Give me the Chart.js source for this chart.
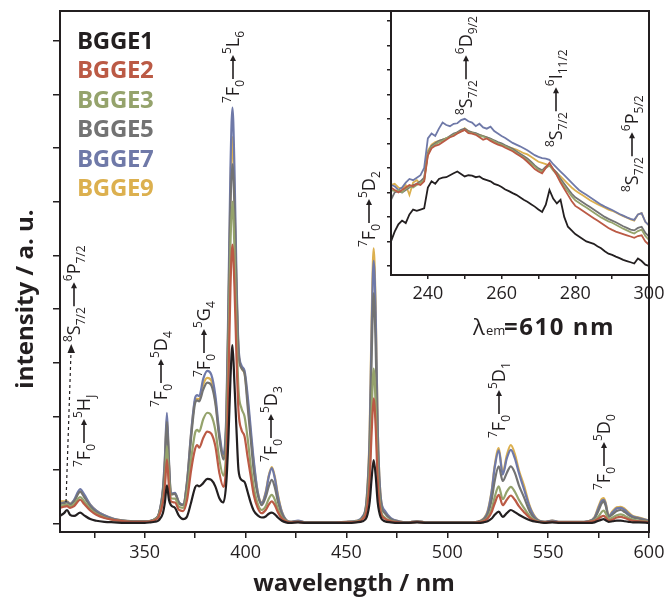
<!DOCTYPE html>
<html lang="en">
<head>
<meta charset="UTF-8">
<title>BGGE excitation spectra</title>
<script src="https://cdn.jsdelivr.net/npm/chart.js"></script>
<style>
  body { margin: 0; background: #fff; }
  #wrap { position: relative; width: 670px; height: 597px; }
  canvas { display: block; }
  #inset { position: absolute; left: 340px; top: 0; }
</style>
</head>
<body>
<div id="wrap">
  <canvas id="main" width="670" height="597"></canvas>
  <canvas id="inset" width="330" height="305"></canvas>
</div>
<script>
// sample names (legend order)
const names = ['BGGE1', 'BGGE2', 'BGGE3', 'BGGE5', 'BGGE7', 'BGGE9'];

// main spectrum: wavelength (nm) and intensity (a.u.) per sample
const mainNm = [308,310,311.5,313,315,318,320,323,326,330,
  335,340,345,350,353,355,357,359,360,361,
  362,363,365,367,369,371,373,375,376,377,
  379,381,383,385,387,389,390.5,391.5,392.5,393.5,
  394.5,395.5,396.5,398,399.5,401,402.5,404,406,408,
  410,411.5,413,414.5,416,418,420,422,426,430,
  440,450,455,458,460,461.5,462.5,463.5,464.5,465.5,
  467,469,472,476,480,485,490,500,510,515,
  518,520,522,523.5,525.5,527.5,529.5,531.5,533.5,535.5,
  538,541,544,548,552,556,565,570,573,575,
  576.5,577.5,578.5,580,582,584,586,588,590,592,
  595,600];

const mainB1 = [0.15,0.2,0.26,0.17,0.15,0.21,0.16,0.09,0.06,0.04,
  0.03,0.02,0.02,0.02,0.03,0.04,0.07,0.2,0.4,0.72,
  0.45,0.35,0.3,0.15,0.09,0.14,0.4,0.68,0.72,0.7,
  0.76,0.84,0.82,0.7,0.48,0.4,0.8,1.6,2.7,3.33,
  2.6,1.75,1.0,0.82,0.78,0.6,0.4,0.25,0.16,0.12,
  0.14,0.19,0.21,0.18,0.12,0.06,0.03,0.02,0.03,0.02,
  0.02,0.02,0.03,0.05,0.12,0.4,0.85,1.19,0.9,0.4,
  0.12,0.05,0.03,0.02,0.02,0.03,0.02,0.02,0.02,0.02,
  0.03,0.05,0.1,0.17,0.23,0.13,0.2,0.26,0.22,0.17,
  0.12,0.07,0.04,0.02,0.03,0.02,0.02,0.02,0.03,0.06,
  0.08,0.09,0.07,0.04,0.05,0.06,0.06,0.05,0.04,0.03,
  0.03,0.02];

const mainB2 = [0.3,0.32,0.33,0.3,0.33,0.45,0.37,0.25,0.17,0.11,
  0.07,0.05,0.04,0.04,0.05,0.07,0.14,0.4,0.7,1.2,
  0.7,0.42,0.4,0.26,0.24,0.45,1.0,1.4,1.47,1.42,
  1.6,1.72,1.68,1.45,0.95,0.69,1.2,2.6,4.4,5.2,
  4.4,3.1,2.1,1.75,1.63,1.25,0.9,0.55,0.3,0.2,
  0.26,0.36,0.42,0.35,0.22,0.1,0.05,0.03,0.04,0.02,
  0.02,0.03,0.04,0.09,0.25,0.8,1.7,2.34,1.8,0.8,
  0.22,0.1,0.05,0.03,0.02,0.04,0.02,0.02,0.02,0.03,
  0.05,0.1,0.22,0.38,0.54,0.35,0.45,0.53,0.45,0.33,
  0.22,0.11,0.05,0.03,0.04,0.03,0.03,0.04,0.06,0.1,
  0.14,0.15,0.12,0.06,0.08,0.12,0.13,0.11,0.08,0.06,
  0.05,0.03];

const mainB3 = [0.33,0.35,0.36,0.33,0.37,0.5,0.42,0.28,0.19,0.12,
  0.07,0.05,0.04,0.04,0.05,0.08,0.16,0.45,0.8,1.45,
  0.85,0.48,0.47,0.32,0.3,0.58,1.2,1.7,1.75,1.72,
  1.95,2.07,2.02,1.75,1.2,0.9,1.5,3.2,5.2,6.0,
  5.1,3.6,2.5,2.15,2.0,1.6,1.1,0.7,0.38,0.26,
  0.33,0.47,0.54,0.45,0.28,0.12,0.06,0.03,0.04,0.02,
  0.02,0.03,0.05,0.1,0.3,1.0,2.1,2.89,2.2,1.0,
  0.28,0.12,0.06,0.03,0.02,0.04,0.02,0.02,0.02,0.03,
  0.06,0.12,0.28,0.5,0.7,0.46,0.6,0.69,0.6,0.45,
  0.3,0.14,0.06,0.03,0.04,0.03,0.03,0.04,0.07,0.14,
  0.22,0.25,0.2,0.09,0.12,0.16,0.18,0.15,0.11,0.08,
  0.06,0.04];

const mainB5 = [0.37,0.39,0.4,0.36,0.42,0.6,0.5,0.33,0.22,0.14,
  0.08,0.06,0.05,0.05,0.06,0.09,0.18,0.6,1.1,1.9,
  1.1,0.55,0.56,0.38,0.35,0.75,1.6,2.25,2.3,2.28,
  2.5,2.63,2.58,2.25,1.6,1.2,1.9,3.8,5.9,6.7,
  5.9,4.3,3.2,2.9,2.8,2.2,1.6,1.0,0.55,0.35,
  0.5,0.7,0.82,0.68,0.42,0.18,0.07,0.04,0.05,0.03,
  0.03,0.03,0.05,0.12,0.4,1.4,3.1,4.3,3.3,1.5,
  0.42,0.2,0.09,0.04,0.03,0.05,0.03,0.03,0.03,0.04,
  0.08,0.18,0.45,0.8,1.07,0.8,0.95,1.07,0.95,0.72,
  0.5,0.22,0.08,0.04,0.05,0.03,0.03,0.05,0.1,0.25,
  0.38,0.42,0.34,0.13,0.18,0.24,0.26,0.22,0.16,0.12,
  0.1,0.05];

const mainB7 = [0.38,0.4,0.41,0.37,0.45,0.65,0.55,0.36,0.25,0.16,
  0.09,0.06,0.05,0.05,0.06,0.09,0.19,0.65,1.25,2.07,
  1.2,0.56,0.58,0.4,0.36,0.8,1.7,2.35,2.4,2.38,
  2.7,2.85,2.78,2.4,1.7,1.3,2.1,4.2,6.6,7.75,
  6.6,4.6,3.3,2.95,2.85,2.4,1.8,1.2,0.6,0.39,
  0.58,0.88,1.04,0.85,0.52,0.22,0.08,0.04,0.06,0.03,
  0.03,0.04,0.06,0.14,0.45,1.6,3.6,4.9,3.9,1.8,
  0.5,0.25,0.11,0.05,0.03,0.05,0.03,0.03,0.03,0.04,
  0.09,0.22,0.6,1.05,1.37,0.92,1.22,1.38,1.22,0.95,
  0.65,0.3,0.1,0.04,0.06,0.04,0.04,0.05,0.12,0.3,
  0.43,0.45,0.38,0.14,0.22,0.29,0.3,0.26,0.19,0.14,
  0.11,0.06];

const mainB9 = [0.42,0.42,0.42,0.38,0.44,0.6,0.52,0.36,0.25,0.16,
  0.09,0.06,0.05,0.05,0.06,0.09,0.19,0.62,1.2,1.98,
  1.15,0.55,0.57,0.4,0.36,0.8,1.68,2.3,2.33,2.32,
  2.6,2.72,2.67,2.3,1.65,1.25,2.0,4.0,6.2,7.2,
  6.1,4.4,3.25,2.9,2.8,2.3,1.7,1.15,0.6,0.4,
  0.6,0.9,1.06,0.88,0.55,0.23,0.08,0.04,0.05,0.03,
  0.03,0.04,0.06,0.13,0.45,1.7,3.8,5.13,4.0,1.8,
  0.5,0.22,0.1,0.05,0.03,0.05,0.03,0.03,0.03,0.04,
  0.1,0.24,0.62,1.08,1.41,0.95,1.28,1.47,1.3,1.0,
  0.72,0.32,0.11,0.04,0.06,0.04,0.04,0.05,0.13,0.33,
  0.46,0.48,0.4,0.15,0.24,0.31,0.32,0.28,0.21,0.15,
  0.12,0.06];

// inset: 230-300 nm, 1 nm steps
const insetNm = [230,231,232,233,234,235,236,237,238,239,
  240,241,242,243,244,245,246,247,248,249,
  250,251,252,253,254,255,256,257,258,259,
  260,261,262,263,264,265,266,267,268,269,
  270,271,272,273,274,275,276,277,278,279,
  280,281,282,283,284,285,286,287,288,289,
  290,291,292,293,294,295,296,297,298,299,
  300];

const insetB1 = [2.0,2.4,2.7,2.85,2.75,3.1,3.3,3.25,3.3,3.35,
  4.2,4.45,4.35,4.55,4.6,4.62,4.7,4.78,4.85,4.75,
  4.65,4.7,4.68,4.62,4.65,4.55,4.5,4.45,4.35,4.3,
  4.22,4.12,4.05,3.97,3.9,3.8,3.7,3.62,3.52,3.42,
  3.3,3.2,3.5,4.1,3.75,3.55,3.7,3.0,2.6,2.45,
  2.3,2.2,2.1,2.0,1.95,1.9,1.8,1.72,1.6,1.5,
  1.45,1.38,1.32,1.25,1.2,1.15,1.1,1.3,1.2,1.05,
  1.0];

const insetB2 = [4.2,4.1,4.0,4.1,4.2,4.3,4.25,4.35,4.3,4.45,
  5.5,5.8,5.9,5.95,6.05,6.15,6.25,6.3,6.4,6.48,
  6.55,6.42,6.4,6.35,6.25,6.15,6.2,6.1,6.02,5.95,
  5.9,5.82,5.75,5.68,5.58,5.48,5.38,5.25,5.1,4.95,
  4.85,4.78,5.0,5.2,4.95,4.7,4.4,4.15,3.9,3.65,
  3.45,3.35,3.25,3.15,3.05,2.95,2.85,2.75,2.65,2.55,
  2.47,2.4,2.35,2.3,2.25,2.2,2.15,2.22,2.25,2.0,
  1.86];

const insetB3 = [4.1,4.05,4.1,4.0,4.15,4.25,4.2,4.3,4.4,4.5,
  5.55,5.85,5.95,6.05,6.1,6.22,6.25,6.35,6.42,6.5,
  6.55,6.45,6.42,6.38,6.3,6.28,6.2,6.15,6.08,6.0,
  5.95,5.88,5.8,5.72,5.62,5.52,5.42,5.3,5.18,5.05,
  4.92,4.85,5.0,5.1,4.9,4.72,4.45,4.25,4.05,3.85,
  3.68,3.58,3.48,3.38,3.28,3.18,3.08,2.98,2.9,2.82,
  2.76,2.68,2.6,2.52,2.45,2.38,2.32,2.42,2.48,2.22,
  2.06];

const insetB5 = [3.7,4.0,4.05,4.0,4.1,4.2,4.3,4.35,4.45,4.6,
  5.6,5.9,6.0,6.1,6.15,6.2,6.3,6.4,6.45,6.55,
  6.6,6.5,6.45,6.42,6.35,6.3,6.25,6.2,6.12,6.05,
  6.0,5.92,5.85,5.78,5.68,5.58,5.48,5.38,5.25,5.1,
  4.98,4.9,5.05,5.15,4.95,4.8,4.55,4.35,4.15,3.95,
  3.8,3.7,3.6,3.5,3.4,3.3,3.2,3.1,3.0,2.92,
  2.85,2.78,2.7,2.62,2.55,2.48,2.45,2.55,2.6,2.35,
  2.2];

const insetB7 = [4.3,4.25,4.1,4.2,4.4,4.55,4.5,4.6,4.7,5.0,
  6.2,6.4,6.3,6.6,6.85,6.75,6.7,6.8,6.82,6.95,
  7.0,6.9,6.85,6.7,6.8,6.65,6.6,6.68,6.5,6.4,
  6.3,6.22,6.12,6.02,5.95,5.88,5.8,5.72,5.62,5.52,
  5.45,5.4,5.38,5.33,5.15,5.0,4.85,4.7,4.55,4.4,
  4.25,4.1,4.0,3.9,3.8,3.7,3.6,3.5,3.42,3.35,
  3.28,3.2,3.12,3.05,2.98,2.92,2.88,3.1,3.15,2.8,
  2.65];

const insetB9 = [4.3,4.35,4.2,4.15,4.3,3.9,4.4,4.5,4.35,4.5,
  5.7,5.95,6.05,6.1,6.15,6.2,6.28,6.35,6.45,6.5,
  6.62,6.5,6.45,6.4,6.35,6.3,6.25,6.18,6.1,6.02,
  5.95,5.9,5.85,5.8,5.75,5.68,5.6,5.55,5.45,5.35,
  5.25,5.2,5.15,5.1,4.95,4.8,4.65,4.5,4.35,4.2,
  4.08,3.98,3.88,3.78,3.68,3.6,3.52,3.45,3.38,3.3,
  3.25,3.18,3.1,3.03,2.97,2.9,2.85,3.1,3.15,2.8,
  2.65];

// ticks
const mainXTicks = [325, 350, 375, 400, 425, 450, 475, 500, 525, 550, 575, 600];
const mainXLabels = [350, 400, 450, 500, 550, 600];
const mainYTicks = [0, 1, 2, 3, 4, 5, 6, 7, 8, 9];
const insetXTicks = [240, 250, 260, 270, 280, 290, 300];
const insetXLabels = [240, 260, 280, 300];
const insetYTicks = [1, 2, 3, 4, 5, 6, 7, 8, 9, 10, 11];

const mainSeries = [mainB1, mainB2, mainB3, mainB5, mainB7, mainB9];
const insetSeries = [insetB1, insetB2, insetB3, insetB5, insetB7, insetB9];

const colors = ['#231f20', '#bb5a45', '#95a36c', '#737373', '#6f79a8', '#dcb04f'];
const ink = '#231f20';
const face = '"Open Sans", sans-serif';

// rotated transition label: [sup, letter, sub, sup, letter, sub]
function transition(ctx, x, y, p) {
  const size = 18, small = 12;
  ctx.save();
  ctx.translate(x, y);
  ctx.rotate(-Math.PI / 2);
  ctx.fillStyle = ink;
  ctx.strokeStyle = ink;
  let cx = 0;
  const put = (t, f, dy) => { ctx.font = f; ctx.fillText(t, cx, dy); cx += ctx.measureText(t).width; };
  const sup = t => put(t, small + 'px ' + face, -8);
  const sub = t => put(t, small + 'px ' + face, 5);
  const big = t => put(t, size + 'px ' + face, 0);
  sup(p[0]); big(p[1]); sub(p[2]);
  const ay = -6, len = 24;
  cx += 1;
  ctx.lineWidth = 1.6;
  ctx.beginPath(); ctx.moveTo(cx, ay); ctx.lineTo(cx + len - 5, ay); ctx.stroke();
  ctx.beginPath(); ctx.moveTo(cx + len, ay); ctx.lineTo(cx + len - 6, ay - 3); ctx.lineTo(cx + len - 6, ay + 3); ctx.closePath(); ctx.fill();
  cx += len + 1;
  sup(p[3]); big(p[4]); sub(p[5]);
  ctx.restore();
}

const frame = (ctx, a) => {
  ctx.save();
  ctx.strokeStyle = ink;
  ctx.lineWidth = 2;
  ctx.strokeRect(a.left, a.top, a.right - a.left, a.bottom - a.top);
  ctx.restore();
};

const mainDecor = {
  id: 'mainDecor',
  afterDraw(chart) {
    const ctx = chart.ctx;
    frame(ctx, chart.chartArea);

    // legend
    ctx.save();
    ctx.font = 'bold 24px ' + face;
    ctx.letterSpacing = '-0.3px';
    names.forEach((n, i) => { ctx.fillStyle = colors[i]; ctx.fillText(n, 77, 49 + i * 29.4); });
    ctx.restore();

    // axis titles
    ctx.save();
    ctx.fillStyle = ink;
    ctx.font = 'bold 24px ' + face;
    ctx.textAlign = 'center';
    ctx.fillText('wavelength / nm', 354, 591);
    ctx.translate(33, 299);
    ctx.rotate(-Math.PI / 2);
    ctx.fillText('intensity / a. u.', 0, 0);
    ctx.restore();

    // transitions
    transition(ctx, 90, 467, ['7', 'F', '0', '5', 'H', 'J']);
    transition(ctx, 167, 407, ['7', 'F', '0', '5', 'D', '4']);
    transition(ctx, 210, 377, ['7', 'F', '0', '5', 'G', '4']);
    transition(ctx, 239, 103, ['7', 'F', '0', '5', 'L', '6']);
    transition(ctx, 277, 462, ['7', 'F', '0', '5', 'D', '3']);
    transition(ctx, 375, 247, ['7', 'F', '0', '5', 'D', '2']);
    transition(ctx, 505, 438, ['7', 'F', '0', '5', 'D', '1']);
    transition(ctx, 610, 490, ['7', 'F', '0', '5', 'D', '0']);
    transition(ctx, 80, 342, ['8', 'S', '7/2', '6', 'P', '7/2']);

    // dashed pointer to the Gd line
    ctx.save();
    ctx.strokeStyle = ink;
    ctx.fillStyle = ink;
    ctx.lineWidth = 1.2;
    ctx.setLineDash([3, 3]);
    ctx.beginPath(); ctx.moveTo(66, 502); ctx.lineTo(71, 352); ctx.stroke();
    ctx.setLineDash([]);
    ctx.beginPath(); ctx.moveTo(71.2, 344); ctx.lineTo(67.5, 353); ctx.lineTo(75, 353); ctx.closePath(); ctx.fill();
    ctx.restore();

    // emission wavelength
    ctx.save();
    ctx.fillStyle = ink;
    ctx.font = '22px ' + face;
    ctx.fillText('λ', 473, 335);
    ctx.font = '13px ' + face;
    ctx.fillText('em', 486, 335);
    ctx.font = 'bold 24px ' + face;
    ctx.letterSpacing = '1.5px';
    ctx.fillText('=610 nm', 504, 335);
    ctx.restore();
  }
};

const insetDecor = {
  id: 'insetDecor',
  beforeDraw(chart) {
    const a = chart.chartArea, ctx = chart.ctx;
    ctx.save();
    ctx.fillStyle = '#fff';
    ctx.fillRect(a.left - 1, a.top - 1, a.right - a.left + 2, a.bottom - a.top + 2);
    ctx.restore();
  },
  afterDraw(chart) {
    const ctx = chart.ctx;
    frame(ctx, chart.chartArea);
    const dx = -340;
    transition(ctx, 472 + dx, 115, ['8', 'S', '7/2', '6', 'D', '9/2']);
    transition(ctx, 562 + dx, 147, ['8', 'S', '7/2', '6', 'I', '11/2']);
    transition(ctx, 638 + dx, 192, ['8', 'S', '7/2', '6', 'P', '5/2']);
  }
};

function axisX(min, max, tickList, labelList, height, tickLen) {
  return {
    type: 'linear', min, max,
    afterBuildTicks: s => { s.ticks = tickList.map(v => ({ value: v })); },
    afterFit: s => { s.height = height; },
    ticks: {
      autoSkip: false, maxRotation: 0, padding: 4, color: ink,
      font: { family: face, size: 18 },
      callback: v => labelList.includes(v) ? String(v) : ''
    },
    grid: { drawOnChartArea: false, tickLength: tickLen, color: ink, lineWidth: 1.5 },
    border: { display: false }
  };
}

function axisY(min, max, tickList, width, tickLen) {
  return {
    min, max,
    afterBuildTicks: s => { s.ticks = tickList.map(v => ({ value: v })); },
    afterFit: s => { s.width = width; },
    ticks: { display: false },
    grid: { drawOnChartArea: false, tickLength: tickLen, color: ink, lineWidth: 1.5 },
    border: { display: false }
  };
}

new Chart(document.getElementById('main'), {
  type: 'line',
  data: {
    datasets: names.map((n, i) => ({
      label: n,
      data: mainNm.map((x, j) => ({ x, y: mainSeries[i][j] })),
      borderColor: colors[i],
      borderWidth: 2.2,
      pointRadius: 0,
      cubicInterpolationMode: 'monotone',
      fill: false
    }))
  },
  options: {
    responsive: false,
    animation: false,
    layout: { padding: { top: 11, right: 21, left: 0, bottom: 0 } },
    plugins: { legend: { display: false }, tooltip: { enabled: false } },
    scales: {
      x: axisX(308, 600, mainXTicks, mainXLabels, 65, 6),
      y: axisY(-0.15, 9.55, mainYTicks, 60, 7)
    }
  },
  plugins: [mainDecor]
});

new Chart(document.getElementById('inset'), {
  type: 'line',
  data: {
    datasets: names.map((n, i) => ({
      label: n,
      data: insetNm.map((x, j) => ({ x, y: insetSeries[i][j] })),
      borderColor: colors[i],
      borderWidth: 1.8,
      pointRadius: 0,
      tension: 0,
      fill: false
    }))
  },
  options: {
    responsive: false,
    animation: false,
    layout: { padding: { top: 11, right: 21, left: 0, bottom: 0 } },
    plugins: { legend: { display: false }, tooltip: { enabled: false } },
    scales: {
      x: axisX(230, 300, insetXTicks, insetXLabels, 30, 4),
      y: axisY(0.63, 11.4, insetYTicks, 51, 4)
    }
  },
  plugins: [insetDecor]
});
</script>
</body>
</html>
